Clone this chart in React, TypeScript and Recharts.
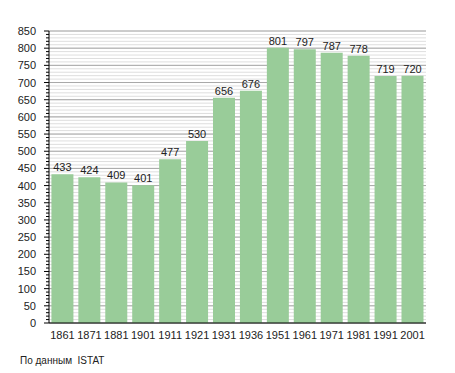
import React from "react";
import { BarChart, Bar, XAxis, YAxis, CartesianGrid, LabelList } from "recharts";

const years = ["1861", "1871", "1881", "1901", "1911", "1921", "1931", "1936", "1951", "1961", "1971", "1981", "1991", "2001"];
const population = [433, 424, 409, 401, 477, 530, 656, 676, 801, 797, 787, 778, 719, 720];
const majorTicks = [0, 50, 100, 150, 200, 250, 300, 350, 400, 450, 500, 550, 600, 650, 700, 750, 800, 850];
const minorTicks = Array.from({ length: 86 }, (_, i) => i * 10);
const sourceNote = "По данным  ISTAT";

const data = years.map((y, i) => ({ year: y, value: population[i] }));

const FONT = "'Liberation Sans', Arial, sans-serif";

const YTick = (props: any) => {
  const { x, y, payload } = props;
  const v = payload.value;
  const major = v % 50 === 0;
  return (
    <g>
      <line x1={x} x2={x - (major ? 5 : 3)} y1={y} y2={y} stroke="#000" strokeWidth={1} />
      {major && (
        <text x={x - 13} y={y} dy={4} textAnchor="end" fontSize={11} fontFamily={FONT} fill="#222">
          {v}
        </text>
      )}
    </g>
  );
};

export default function App() {
  return (
    <div style={{ position: "absolute", left: 0, top: 0, width: 455, height: 373, background: "#fff" }}>
      <BarChart
        width={455}
        height={373}
        data={data}
        margin={{ top: 31, right: 29, left: 0, bottom: 30 }}
        barCategoryGap="9%"
      >
        <CartesianGrid vertical={false} horizontalValues={minorTicks} stroke="#dedede" strokeWidth={1} />
        <CartesianGrid vertical={false} horizontalValues={majorTicks} stroke="#a8a8a8" strokeWidth={1} />
        <XAxis
          dataKey="year"
          height={20}
          tickLine={false}
          axisLine={{ stroke: "#000" }}
          interval={0}
          tick={{ fontSize: 11, fontFamily: FONT, fill: "#222" }}
          tickMargin={2}
        />
        <YAxis
          width={49}
          domain={[0, 850]}
          ticks={minorTicks}
          interval={0}
          tickLine={false}
          tickSize={0}
          tickMargin={0}
          axisLine={{ stroke: "#000" }}
          tick={<YTick />}
        />
        <Bar dataKey="value" fill="#99cc99" isAnimationActive={false}>
          <LabelList dataKey="value" position="top" offset={3} fontSize={11} fontFamily={FONT} fill="#222" />
        </Bar>
      </BarChart>
      <div
        style={{
          position: "absolute",
          left: 20,
          top: 355,
          fontFamily: FONT,
          fontSize: 10,
          color: "#222",
          whiteSpace: "pre",
        }}
      >
        {sourceNote}
      </div>
    </div>
  );
}
